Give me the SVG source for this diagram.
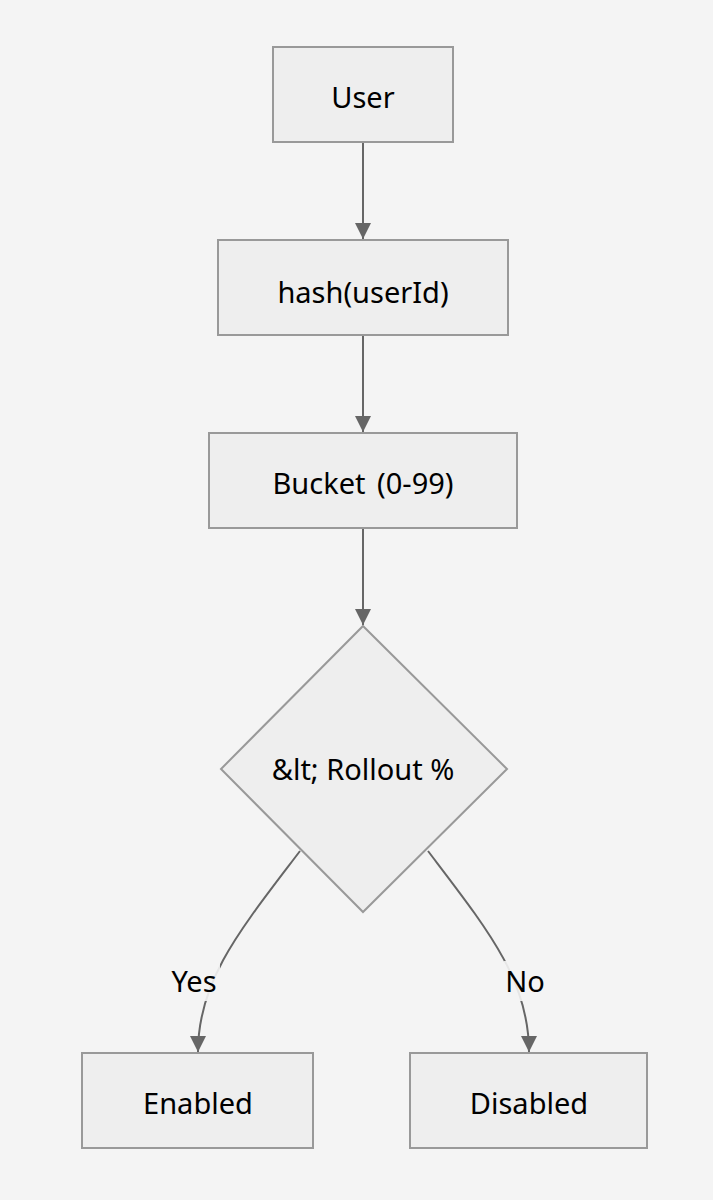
<svg xmlns="http://www.w3.org/2000/svg" width="713" height="1200" viewBox="0 0 713 1200">
<style>
.n{fill:#eeeeee;stroke:#999999;stroke-width:2}
.t{font-family:"Noto Sans","DejaVu Sans",sans-serif;font-size:29px;fill:#000;text-anchor:middle;dominant-baseline:central}
.e{fill:none;stroke:#666666;stroke-width:2}
.lb{fill:#f4f4f4;opacity:0.9}
</style>
<defs>
<marker id="ah2" viewBox="0 0 12 12" refX="12" refY="6" markerWidth="16" markerHeight="16" markerUnits="userSpaceOnUse" orient="auto">
<path d="M0,0 L12,6 L0,12 z" fill="#666666"/>
</marker>
</defs>
<rect width="713" height="1200" fill="#f4f4f4"/>
<g id="connectors">
<path class="e" d="M363,143 L363,239" marker-end="url(#ah2)"/>
<path class="e" d="M363,336 L363,432" marker-end="url(#ah2)"/>
<path class="e" d="M363,529 L363,625" marker-end="url(#ah2)"/>
<path class="e" d="M300,851 C240,930 198,980 198,1052" marker-end="url(#ah2)"/>
<path class="e" d="M428,851 C488,930 529,980 529,1052" marker-end="url(#ah2)"/>
<rect class="lb" x="168" y="961" width="52" height="40"/>
<text class="t" x="194" y="980">Yes</text>
<rect class="lb" x="504" y="961" width="42" height="40"/>
<text class="t" x="525" y="980">No</text>
</g>
<g id="user"><rect class="n" x="273" y="47" width="180" height="95"/><text class="t" x="363" y="96">User</text></g>
<g id="hash"><rect class="n" x="218" y="240" width="290" height="95"/><text class="t" x="363" y="291">hash(userId)</text></g>
<g id="bucket"><rect class="n" x="209" y="433" width="308" height="95"/><text class="t" x="363" y="482" word-spacing="4">Bucket (0-99)</text></g>
<g id="rollout"><polygon class="n" points="363,626 507,769 363,912 221,769"/><text class="t" x="363" y="768">&amp;lt; Rollout %</text></g>
<g id="enabled"><rect class="n" x="82" y="1053" width="231" height="95"/><text class="t" x="198" y="1102">Enabled</text></g>
<g id="disabled"><rect class="n" x="410" y="1053" width="237" height="95"/><text class="t" x="529" y="1102">Disabled</text></g>
</svg>
